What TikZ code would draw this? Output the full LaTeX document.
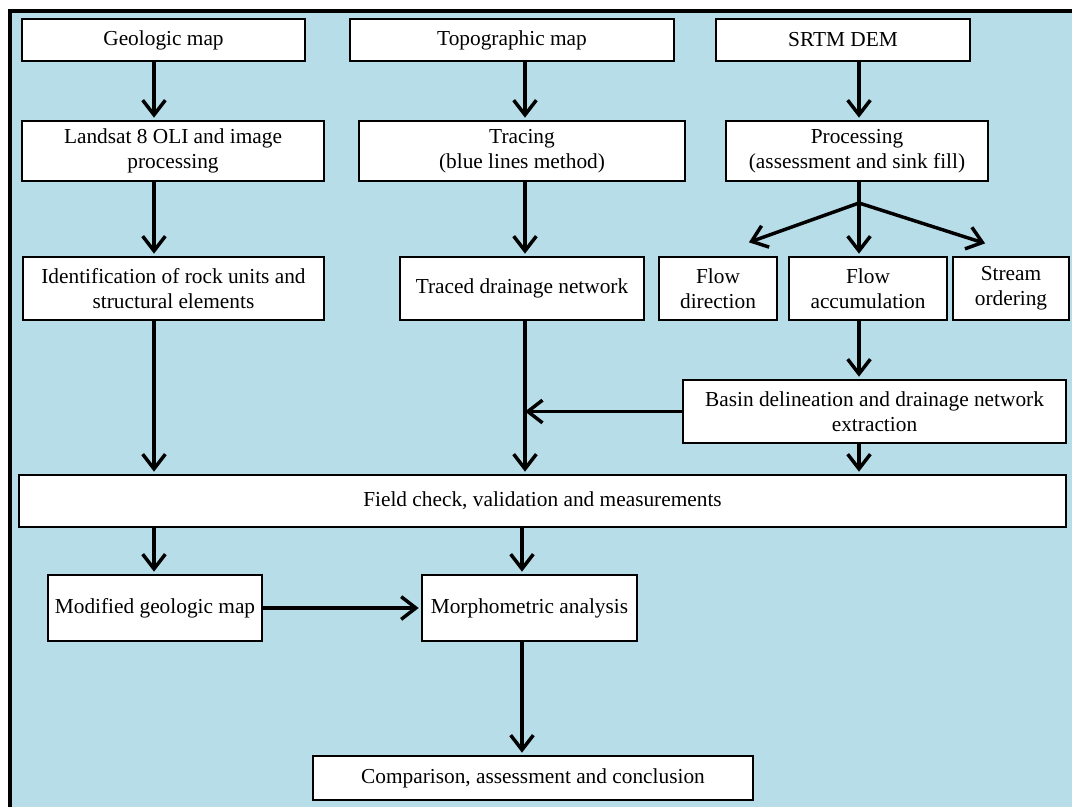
\documentclass[tikz,border=0pt]{standalone}
\usepackage{fontspec}
\setmainfont{Liberation Serif}
\usetikzlibrary{arrows.meta}
\definecolor{bgblue}{RGB}{183,221,232}
\begin{document}
\begin{tikzpicture}[x=0.75pt,y=-0.75pt,
  box/.style={draw=black, fill=white, line width=2pt, align=center, inner sep=0pt,
    font=\fontsize{16}{18.75}\selectfont},
  sz/.style 2 args={minimum width=#1*0.75pt, minimum height=#2*0.75pt},
  arr/.style={line width=2.6pt, -{Straight Barb[length=11pt,width=17pt]}, shorten >=1.5pt},
  plain/.style={line width=2.6pt}]
\useasboundingbox (0,0) rectangle (1072,807);
\fill[white] (0,0) rectangle (1072,807);
\fill[bgblue] (10,11) rectangle (1072,807);
\draw[line width=3pt, line join=miter] (10,807) -- (10,11) -- (1072,11);

% nodes
\node[box, sz={283}{42}] (geo) at (163.5,40) {Geologic map};
\node[box, sz={324}{42}] (topo) at (512,40) {Topographic map};
\node[box, sz={254}{42}] (srtm) at (843,40) {SRTM DEM};
\node[box, sz={302}{60}] (landsat) at (173,151) {Landsat 8 OLI and image\\processing};
\node[box, sz={326}{60}] (tracing) at (522,151) {Tracing\\(blue lines method)};
\node[box, sz={262}{60}] (proc) at (857,151) {Processing\\(assessment and sink fill)};
\node[box, sz={301}{63}] (ident) at (173.5,288.5) {Identification of rock units and\\structural elements};
\node[box, sz={244}{63}] (traced) at (522,288.5) {Traced drainage network};
\node[box, sz={118}{63}] (flowdir) at (718,288.5) {Flow\\direction};
\node[box, sz={158}{63}] (flowacc) at (868,288.5) {Flow\\accumulation};
\node[box, sz={116}{63}] (stream) at (1011,288.5) {Stream\\ordering};
\node[box, sz={383}{63}] (basin) at (874.5,411.5) {Basin delineation and drainage network\\extraction};
\node[box, sz={1047}{52}] (field) at (542.5,501) {Field check, validation and measurements};
\node[box, sz={214}{66}] (modified) at (155,608) {Modified geologic map};
\node[box, sz={215}{66}] (morph) at (529.5,608) {Morphometric analysis};
\node[box, sz={440}{44}] (comp) at (533,778) {Comparison, assessment and conclusion};

% helper coordinates
\coordinate (cL) at (154,0);
\coordinate (cM) at (525,0);
\coordinate (cR) at (859,0);
\coordinate (cM2) at (522,0);
\coordinate (fan) at (859,203);
\coordinate (fl) at (747,243);
\coordinate (fr) at (987,244);

% connectors
\draw[arr] (geo.south -| cL) -- (landsat.north -| cL);
\draw[arr] (landsat.south -| cL) -- (ident.north -| cL);
\draw[arr] (ident.south -| cL) -- (field.north -| cL);
\draw[arr] (topo.south -| cM) -- (tracing.north -| cM);
\draw[arr] (tracing.south -| cM) -- (traced.north -| cM);
\draw[arr] (traced.south -| cM) -- (field.north -| cM);
\draw[arr] (srtm.south -| cR) -- (proc.north -| cR);
\draw[plain] (proc.south -| cR) -- (fan);
\draw[arr] (fan) -- (fl);
\draw[arr] (fan) -- (fr);
\draw[arr] (fan) -- (flowacc.north -| cR);
\draw[arr] (flowacc.south -| cR) -- (basin.north -| cR);
\draw[arr, shorten >=0pt] (basin.west) -- (basin.west -| cM);
\draw[arr] (basin.south -| cR) -- (field.north -| cR);
\draw[arr] (field.south -| cL) -- (modified.north -| cL);
\draw[arr] (field.south -| cM2) -- (morph.north -| cM2);
\draw[arr] (modified.east) -- (morph.west);
\draw[arr] (morph.south -| cM2) -- (comp.north -| cM2);
\end{tikzpicture}
\end{document}
